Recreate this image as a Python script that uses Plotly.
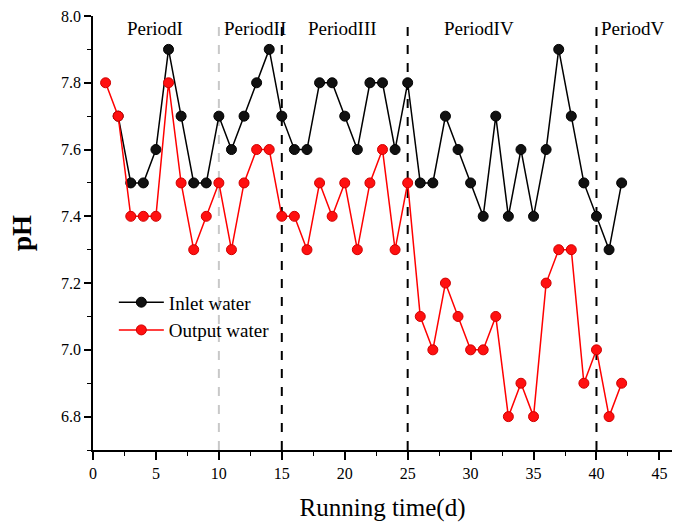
import plotly.graph_objects as go

days_in = list(range(2, 43))
inlet = [7.7, 7.5, 7.5, 7.6, 7.9, 7.7, 7.5, 7.5, 7.7, 7.6, 7.7, 7.8, 7.9, 7.7,
         7.6, 7.6, 7.8, 7.8, 7.7, 7.6, 7.8, 7.8, 7.6, 7.8, 7.5, 7.5, 7.7, 7.6,
         7.5, 7.4, 7.7, 7.4, 7.6, 7.4, 7.6, 7.9, 7.7, 7.5, 7.4, 7.3, 7.5]
days_out = list(range(1, 43))
output = [7.8, 7.7, 7.4, 7.4, 7.4, 7.8, 7.5, 7.3, 7.4, 7.5, 7.3, 7.5, 7.6, 7.6,
          7.4, 7.4, 7.3, 7.5, 7.4, 7.5, 7.3, 7.5, 7.6, 7.3, 7.5, 7.1, 7.0, 7.2,
          7.1, 7.0, 7.0, 7.1, 6.8, 6.9, 6.8, 7.2, 7.3, 7.3, 6.9, 7.0, 6.8, 6.9]

period_names = ["PeriodI", "PeriodII", "PeriodIII", "PeriodIV", "PeriodV"]
period_label_x = [4.9, 12.9, 19.8, 30.7, 42.9]
divider_x = [10, 15, 25, 40]
divider_colors = ["#c8c8c8", "black", "black", "black"]

SERIF = "Liberation Serif, Times New Roman, serif"

fig = go.Figure()
fig.add_trace(go.Scatter(
    x=days_in, y=inlet, mode="lines+markers", name="Inlet water",
    line=dict(color="black", width=1.5),
    marker=dict(symbol="circle", size=10, color="#111111",
                line=dict(color="black", width=1)),
))
fig.add_trace(go.Scatter(
    x=days_out, y=output, mode="lines+markers", name="Output water",
    line=dict(color="#ff0000", width=1.5),
    marker=dict(symbol="circle", size=10, color="#ff1010",
                line=dict(color="#d00000", width=1)),
))

for xv, c in zip(divider_x, divider_colors):
    fig.add_shape(type="line", x0=xv, x1=xv, y0=6.7, y1=7.975, xref="x", yref="y",
                  line=dict(color=c, width=2, dash="dash"), layer="below")

for name, xv in zip(period_names, period_label_x):
    fig.add_annotation(x=xv, y=7.964, text=name, showarrow=False, xref="x", yref="y",
                       font=dict(family=SERIF, size=19, color="black"))

fig.update_layout(
    width=681, height=522,
    margin=dict(l=93, r=9, t=16, b=72),
    paper_bgcolor="white", plot_bgcolor="white",
    font=dict(family=SERIF, color="black"),
    legend=dict(x=0.036, y=0.384, xanchor="left", yanchor="top", itemwidth=45,
                bgcolor="rgba(0,0,0,0)", font=dict(family=SERIF, size=19),
                tracegroupgap=0),
    showlegend=True,
)
fig.update_xaxes(
    range=[0, 46], dtick=5, tick0=0, showgrid=False, zeroline=False, automargin=False,
    showline=True, linecolor="black", linewidth=1.5,
    ticks="outside", ticklen=8, tickwidth=1.5, tickcolor="black",
    minor=dict(dtick=2.5, ticks="outside", ticklen=4, tickwidth=1.2, tickcolor="black"),
    tickfont=dict(family=SERIF, size=16),
    title=dict(text="Running time(d)", font=dict(family=SERIF, size=25), standoff=18),
)
fig.update_yaxes(
    range=[6.7, 8.0], dtick=0.2, tick0=6.8, tickformat=".1f", showgrid=False, zeroline=False,
    automargin=False,
    showline=True, linecolor="black", linewidth=1.5,
    ticks="outside", ticklen=7, tickwidth=1.5, tickcolor="black",
    minor=dict(dtick=0.1, ticks="outside", ticklen=4, tickwidth=1.2, tickcolor="black"),
    tickfont=dict(family=SERIF, size=16),
    title=dict(text="<b>pH</b>", font=dict(family=SERIF, size=27), standoff=22),
)

fig.write_html("out.html")
